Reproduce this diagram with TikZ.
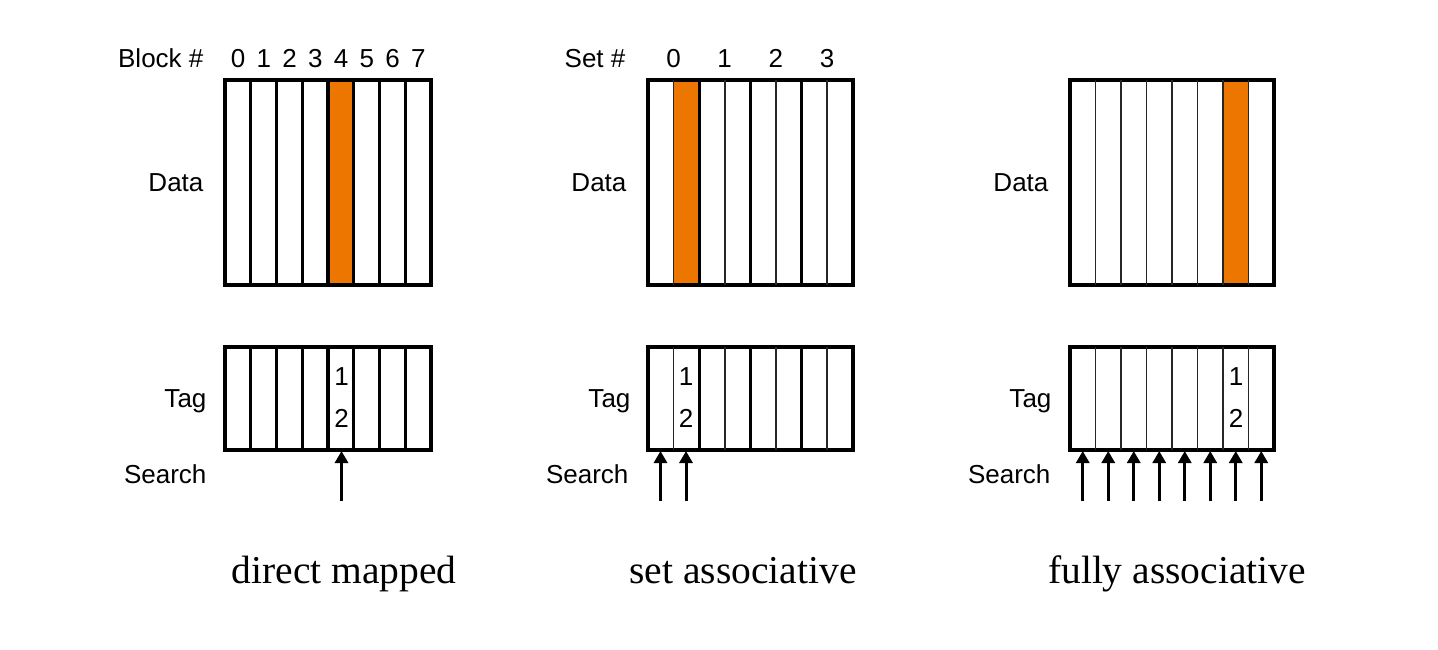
\documentclass[tikz,border=0pt]{standalone}
\usepackage{fontspec}
\setmainfont{Liberation Sans}
\newfontfamily\capfont{Liberation Serif}
\usetikzlibrary{arrows.meta}
\definecolor{hitorange}{RGB}{237,118,0}
\tikzset{every picture/.style={line width=3.2pt},
  thinline/.style={line width=1.6pt,black!85},
  lbl/.style={font=\fontsize{26}{30}\selectfont,inner sep=0pt},
  captext/.style={font=\capfont\fontsize{39.5}{44}\selectfont,inner sep=0pt,anchor=base},
  srch/.style={line width=3pt,-{Triangle[width=13pt,length=12pt]}}}
\begin{document}
\begin{tikzpicture}[x=1pt,y=-1pt]
\useasboundingbox (0,0) rectangle (1438,650);
% direct mapped
\fill[hitorange] (329,80) rectangle (354.5,285);
\draw (225,80) rectangle (431,285);
\draw (225,347) rectangle (431,450);
\foreach \i in {1,...,7} {
  \draw (225+\i*25.75,80) -- (225+\i*25.75,285);
  \draw (225+\i*25.75,347) -- (225+\i*25.75,450);
}
\node[lbl,anchor=base east] (dmblk) at (205,68) {Block \#};
\foreach \i in {0,...,7}
  \node[lbl,anchor=base] (dmn\i) at (238+\i*25.75,68) {\i};
\node[lbl,anchor=base east] (dmdata) at (205,192) {Data};
\node[lbl,anchor=base east] (dmtag) at (208,407) {Tag};
\node[lbl,anchor=base east] (dmsearch) at (208,483) {Search};
\node[lbl,anchor=base] (dmt1) at (341.5,385) {1};
\node[lbl,anchor=base] (dmt2) at (341.5,427) {2};
\coordinate (dms) at (341.5,501);
\coordinate (dme) at (341.5,451);
\draw[srch] (dms) -- (dme);
\node[captext] (dmcap) at (344,583) {direct mapped};

% set associative
\fill[hitorange] (674,80) rectangle (699,285);
\draw (648,80) rectangle (853,285);
\draw (648,347) rectangle (853,450);
\foreach \i in {1,3,5,7} {
  \draw[thinline] (648+\i*25.6,80) -- (648+\i*25.6,285);
  \draw[thinline] (648+\i*25.6,347) -- (648+\i*25.6,450);
}
\foreach \i in {2,4,6} {
  \draw (648+\i*25.6,80) -- (648+\i*25.6,285);
  \draw (648+\i*25.6,347) -- (648+\i*25.6,450);
}
\node[lbl,anchor=base east] (saset) at (627,68) {Set \#};
\foreach \i in {0,...,3}
  \node[lbl,anchor=base] (san\i) at (673.5+\i*51.2,68) {\i};
\node[lbl,anchor=base east] (sadata) at (628,192) {Data};
\node[lbl,anchor=base east] (satag) at (632,407) {Tag};
\node[lbl,anchor=base east] (sasearch) at (630,483) {Search};
\node[lbl,anchor=base] (sat1) at (686,385) {1};
\node[lbl,anchor=base] (sat2) at (686,427) {2};
\foreach \x [count=\k] in {660.5,686} {
  \coordinate (sas\k) at (\x,501);
  \coordinate (sae\k) at (\x,451);
  \draw[srch] (sas\k) -- (sae\k);
}
\node[captext] (sacap) at (743,583) {set associative};

% fully associative
\fill[hitorange] (1223,80) rectangle (1248.5,285);
\draw (1070,80) rectangle (1274,285);
\draw (1070,347) rectangle (1274,450);
\foreach \i in {1,...,7} {
  \draw[thinline] (1070+\i*25.5,80) -- (1070+\i*25.5,285);
  \draw[thinline] (1070+\i*25.5,347) -- (1070+\i*25.5,450);
}
\node[lbl,anchor=base east] (fadata) at (1050,192) {Data};
\node[lbl,anchor=base east] (fatag) at (1053,407) {Tag};
\node[lbl,anchor=base east] (fasearch) at (1052,483) {Search};
\node[lbl,anchor=base] (fat1) at (1236,385) {1};
\node[lbl,anchor=base] (fat2) at (1236,427) {2};
\foreach \i in {0,...,7} {
  \coordinate (fas\i) at (1082.75+\i*25.5,501);
  \coordinate (fae\i) at (1082.75+\i*25.5,451);
  \draw[srch] (fas\i) -- (fae\i);
}
\node[captext] (facap) at (1177,583) {fully associative};
\end{tikzpicture}
\end{document}
